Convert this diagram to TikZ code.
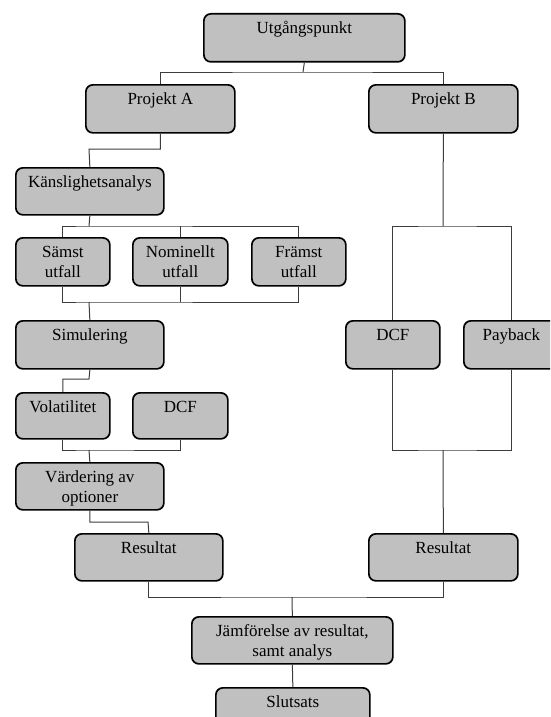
\documentclass[tikz,border=0pt]{standalone}
\usepackage{fontspec}
\setmainfont{Liberation Serif}
\definecolor{boxfill}{RGB}{192,192,192}
\definecolor{linecol}{RGB}{60,60,60}
% box text: fixed-size top-aligned block, first baseline 20pt below the top
\newcommand{\boxtxt}[3]{\parbox[c][#2pt][t]{#1pt}{\centering\rule{0pt}{20pt}#3\par}}
\tikzset{
  stage/.style={draw=black, line width=1.7pt, fill=boxfill, rounded corners=7pt,
    inner sep=0pt, anchor=north west, font=\fontsize{17}{20}\selectfont},
  conn/.style={draw=linecol, line width=1pt}
}
\begin{document}
\begin{tikzpicture}[x=1pt, y=-1pt]
\useasboundingbox (0,0) rectangle (550,717);
\clip (0,0) rectangle (550,717);

% left branch: project A
\node[stage] (u)    at (203,13)  {\boxtxt{201}{48}{Utgångspunkt}};
\node[stage] (pa)   at (85,84)   {\boxtxt{149}{48}{Projekt A}};
\node[stage] (pb)   at (368,84)  {\boxtxt{149}{48}{Projekt B}};
\node[stage] (k)    at (15,167)  {\boxtxt{148}{47}{Känslighetsanalys}};
\node[stage] (s1)   at (15,237)  {\boxtxt{94}{48}{Sämst\\utfall}};
\node[stage] (s2)   at (132,237) {\boxtxt{95}{48}{Nominellt\\utfall}};
\node[stage] (s3)   at (251,237) {\boxtxt{94}{48}{Främst\\utfall}};
\node[stage] (sim)  at (15,320)  {\boxtxt{148}{48}{Simulering}};
\node[stage] (vol)  at (15,392)  {\boxtxt{94}{46}{Volatilitet}};
\node[stage] (dcfa) at (132,392) {\boxtxt{95}{46}{DCF}};
\node[stage] (vard) at (15,462)  {\boxtxt{148}{47}{Värdering av\\optioner}};
\node[stage] (resa) at (74,533)  {\boxtxt{148}{47}{Resultat}};

% right branch: project B
\node[stage] (dcfb) at (345,320) {\boxtxt{94}{48}{DCF}};
\node[stage] (pay)  at (463,320) {\boxtxt{95}{48}{Payback}};
\node[stage] (resb) at (368,533) {\boxtxt{149}{47}{Resultat}};

% merge
\node[stage] (jamf) at (191,616) {\boxtxt{201}{47}{Jämförelse av resultat,\\samt analys}};
\node[stage] (slut) at (215,687) {\boxtxt{154}{48}{Slutsats}};

% junction points
\coordinate (t1)  at (303,72);
\coordinate (t2)  at (89,149);
\coordinate (t3)  at (89,226);
\coordinate (t4)  at (89,302);
\coordinate (t5)  at (89,379);
\coordinate (t6)  at (89,450);
\coordinate (t7)  at (148,522);
\coordinate (t8)  at (443,226);
\coordinate (t9)  at (443,450);
\coordinate (t10) at (292,597);

% connectors
\draw[conn] (u.south) -- (t1);
\draw[conn] (pa.north) |- (t1) -| (pb.north);
\draw[conn] (pa.south) |- (t2) -- (k.north);
\draw[conn] (k.south) -- (t3);
\draw[conn] (s1.north) |- (t3) -| (s3.north);
\draw[conn] (s2.north) -- (s2.north |- t3);
\draw[conn] (s1.south) |- (t4) -| (s3.south);
\draw[conn] (s2.south) -- (s2.south |- t4);
\draw[conn] (t4) -- (sim.north);
\draw[conn] (sim.south) -- (t5) -| (vol.north);
\draw[conn] (vol.south) |- (t6) -| (dcfa.south);
\draw[conn] (t6) -- (vard.north);
\draw[conn] (vard.south) |- (t7) -- (resa.north);
\draw[conn] (pb.south) -- (t8);
\draw[conn] (dcfb.north) |- (t8) -| (pay.north);
\draw[conn] (dcfb.south) |- (t9) -| (pay.south);
\draw[conn] (t9) -- (resb.north);
\draw[conn] (resa.south) |- (t10) -| (resb.south);
\draw[conn] (t10) -- (jamf.north);
\draw[conn] (jamf.south) -- (slut.north);
\end{tikzpicture}
\end{document}
